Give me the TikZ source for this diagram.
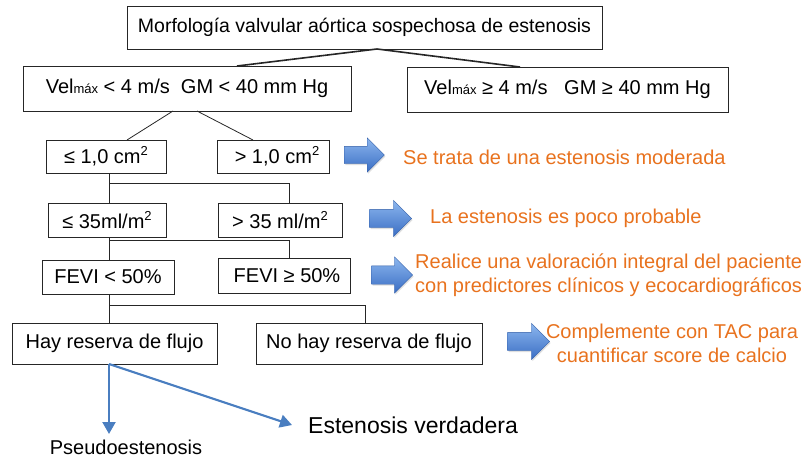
\documentclass[tikz,border=0pt]{standalone}
\usepackage{fontspec}
\setmainfont{Liberation Sans}
\usetikzlibrary{shapes.arrows,shadows,arrows.meta}
\definecolor{orng}{RGB}{232,114,30}
\definecolor{bline}{RGB}{74,126,192}
\definecolor{atop}{RGB}{140,182,238}
\definecolor{abot}{RGB}{58,110,196}
\newcommand{\sqtwo}{\raisebox{0.42em}{\fontsize{13}{13}\selectfont 2}}
\newcommand{\vmx}{{\fontsize{13}{13}\selectfont máx}}
\begin{document}
\begin{tikzpicture}[x=1pt,y=-1pt,
  box/.style={draw=black!85, line width=0.9pt, rectangle, inner sep=0pt, font=\fontsize{20}{24}\selectfont},
  conn/.style={line width=0.8pt, draw=black!85},
  bigconn/.style={line width=1.6pt, draw=black!85},
  blk/.style={single arrow, inner sep=0pt, draw=abot!85!black, line width=0.3pt,
    top color=atop, bottom color=abot,
    drop shadow={opacity=0.25, shadow xshift=1pt, shadow yshift=-1.5pt}},
  otext/.style={text=orng, font=\fontsize{20}{24}\selectfont, inner sep=0pt},
  btext/.style={font=\fontsize{20}{24}\selectfont, inner sep=0pt},
  bluearr/.style={draw=bline, line width=2.1pt, -{Triangle[length=12pt,width=13pt]}}
]
\useasboundingbox (0,0) rectangle (809,460);

% boxes
\node[box, font=\fontsize{19.5}{23}\selectfont, minimum width=475pt, minimum height=43pt] (top) at (364.5,27.5) {Morfología valvular aórtica sospechosa de estenosis};
\node[box, minimum width=328pt, minimum height=45pt] (L1) at (187,88.5) {Vel\vmx{} < 4 m/s\ \ GM < 40 mm Hg};
\node[box, minimum width=321pt, minimum height=45pt] (R1) at (567.5,89.5) {Vel\vmx{} ≥ 4 m/s\ \ \ GM ≥ 40 mm Hg};
\node[box, minimum width=120pt, minimum height=33pt] (A1) at (106,156.5) {≤ 1,0 cm\sqtwo};
\node[box, minimum width=112pt, minimum height=33pt] (B1) at (273,156.5) {\hspace{8pt}> 1,0 cm\sqtwo};
\node[box, minimum width=118pt, minimum height=34pt] (A2) at (107,220) {≤ 35ml/m\sqtwo};
\node[box, minimum width=124pt, minimum height=34pt] (B2) at (280,220) {> 35 ml/m\sqtwo};
\node[box, minimum width=132pt, minimum height=34pt] (A3) at (108,277) {FEVI < 50\%};
\node[box, minimum width=132pt, minimum height=35pt] (B3) at (284,275.5) {\hspace{6pt}FEVI ≥ 50\%};
\node[box, minimum width=205pt, minimum height=41pt] (A4) at (114.5,343.5) {Hay reserva de flujo};
\node[box, minimum width=226pt, minimum height=41pt] (B4) at (369,343.5) {No hay reserva de flujo};

% junction coordinates
\coordinate (t0) at (377,49);
\coordinate (l0) at (237,66);
\coordinate (r0) at (520,67);
\coordinate (la) at (173,111);
\coordinate (lb) at (197,111);
\coordinate (a1t) at (127,140);
\coordinate (b1t) at (253,140);
\coordinate (j1) at (109,183);
\coordinate (k1) at (289,183);
\coordinate (j2) at (109,240);
\coordinate (k2) at (289,240);
\coordinate (j3) at (109,305);
\coordinate (k3) at (365,305);

% connectors
\draw[bigconn] (t0) -- (l0);
\draw[bigconn] (t0) -- (r0);
\draw[conn] (la) -- (a1t);
\draw[conn] (lb) -- (b1t);
\draw[conn] (A1.south -| j1) -- (A2.north -| j1);
\draw[conn] (j1) -- (k1) -- (B2.north -| k1);
\draw[conn] (A2.south -| j2) -- (A3.north -| j2);
\draw[conn] (j2) -- (k2) -- (B3.north -| k2);
\draw[conn] (A3.south -| j3) -- (A4.north -| j3);
\draw[conn] (j3) -- (k3) -- (B4.north -| k3);

% block arrows
\node[blk, minimum height=40pt, single arrow head extend=8.5pt] (ar1) at (360,155) {\rule{0pt}{17pt}};
\node[blk, minimum height=42pt, single arrow head extend=9pt] (ar2) at (386,218.5) {\rule{0pt}{18pt}};
\node[blk, minimum height=41pt, single arrow head extend=9pt] (ar3) at (387.5,275) {\rule{0pt}{18pt}};
\node[blk, minimum height=42pt, single arrow head extend=9pt] (ar4) at (524,341.5) {\rule{0pt}{18pt}};

% orange texts
\node[otext, anchor=west] (o1) at (403,157) {Se trata de una estenosis moderada};
\node[otext, anchor=west] (o2) at (430,218) {La estenosis es poco probable};
\node[otext, anchor=west, align=left] (o3) at (415,275) {Realice una valoración integral del paciente\\con predictores clínicos y ecocardiográficos};
\node[otext, align=center] (o4) at (672,343.5) {Complemente con TAC para\\cuantificar score de calcio};

% outcome arrows
\coordinate (hs) at (109,364);
\coordinate (pe) at (109,434);
\coordinate (ev) at (292,425);
\draw[bluearr] (hs) -- (pe);
\draw[bluearr] (hs) -- (ev);
\node[btext] (ps) at (126,447) {Pseudoestenosis};
\node[btext, font=\fontsize{23}{27}\selectfont, anchor=west] (vd) at (308,425) {Estenosis verdadera};
\end{tikzpicture}
\end{document}
